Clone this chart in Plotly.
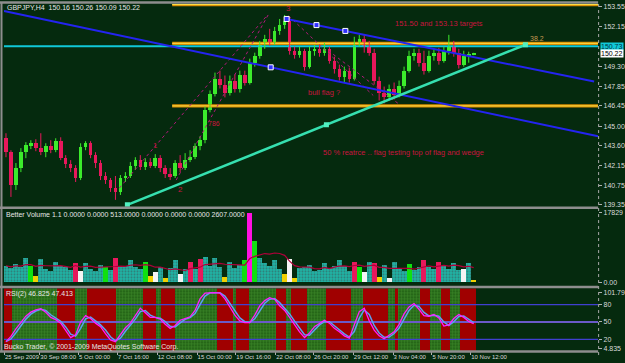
import plotly.graph_objects as go
import pandas as pd

# ---------------- data ----------------
opens = [144.13,143.13,140.78,141.99,143.13,143.63,143.77,143.42,143.13,143.56,
         143.27,143.92,142.70,142.28,141.99,141.28,143.49,143.77,142.92,142.35,
         141.42,141.13,140.56,140.28,141.28,141.42,142.13,142.56,142.06,142.42,
         142.13,142.70,141.99,141.56,141.42,142.35,141.99,142.56,142.77,143.56,
         143.99,146.13,147.34,148.41,147.98,147.41,148.27,147.70,148.70,148.13,
         149.55,150.05,150.84,151.27,150.98,151.84,152.27,152.55,150.41,150.13,
         150.41,149.27,150.41,150.55,150.27,150.55,149.70,149.13,148.55,148.98,
         148.41,150.98,151.27,150.77,150.27,148.27,147.41,147.06,147.70,147.20,
         147.91,148.98,150.05,150.27,149.55,148.98,150.05,150.27,149.70,150.41,
         150.77,150.27,149.41,150.05,150.16]
highs = [144.49,143.27,142.35,143.42,143.85,143.99,144.06,144.49,143.77,143.99,
         144.13,144.20,142.92,142.56,142.20,143.77,143.92,143.92,143.13,142.56,
         141.70,141.28,141.42,141.49,141.70,142.42,142.77,142.92,142.70,142.70,
         142.99,142.92,142.20,141.99,142.56,142.92,143.06,143.27,143.77,144.27,
         146.41,147.56,148.84,148.98,148.63,148.63,148.70,148.98,148.98,149.84,
         150.27,151.12,151.55,151.98,152.12,152.69,152.98,152.84,150.70,150.70,
         150.55,150.70,150.84,150.84,150.98,150.70,149.98,149.41,149.27,149.20,
         151.41,151.55,151.55,151.12,150.55,148.55,147.84,147.98,148.13,148.27,
         149.27,150.41,150.55,150.55,150.41,150.41,150.55,150.62,150.70,151.55,
         151.12,150.55,150.41,150.34,150.26]
lows = [142.77,139.92,140.42,141.70,142.70,143.35,143.20,142.92,142.77,143.06,
        143.13,142.56,141.99,141.70,140.99,141.13,143.27,142.70,141.99,141.13,
        140.85,140.28,139.71,140.06,140.99,141.28,141.85,141.85,141.85,141.99,
        141.99,141.70,141.28,141.13,141.28,141.70,141.85,142.42,142.63,143.27,
        143.77,145.99,147.13,147.70,147.06,147.20,147.41,147.41,147.91,147.98,
        149.27,149.84,150.55,150.77,150.84,151.55,151.98,150.13,149.84,149.91,
        148.98,149.13,150.05,149.98,150.05,149.48,148.77,148.27,148.13,148.13,
        148.27,150.70,150.27,150.05,147.98,146.84,146.63,146.84,146.91,147.06,
        147.70,148.84,149.70,149.27,148.70,148.84,149.70,149.41,149.55,150.13,
        149.98,149.13,149.27,149.55,150.09]
closes = [143.13,140.78,141.99,143.13,143.63,143.77,143.42,143.13,143.56,143.27,
          143.92,142.70,142.28,141.99,141.28,143.49,143.77,142.92,142.35,141.42,
          141.13,140.56,140.28,141.28,141.42,142.13,142.56,142.06,142.42,142.13,
          142.70,141.99,141.56,141.42,142.35,141.99,142.56,142.77,143.56,143.99,
          146.13,147.34,148.41,147.98,147.41,148.27,147.70,148.70,148.13,149.55,
          150.05,150.84,151.27,150.98,151.84,152.27,152.55,150.41,150.13,150.41,
          149.27,150.41,150.55,150.27,150.55,149.70,149.13,148.55,148.98,148.41,
          150.98,151.27,150.77,150.27,148.27,147.41,147.06,147.70,147.20,147.91,
          148.98,150.05,150.27,149.55,148.98,150.05,150.27,149.70,150.41,150.77,
          150.27,149.41,150.05,150.16,150.22]

volume = [4200,3600,4800,3800,6200,4200,1500,6000,3500,3000,
          5300,4200,3800,3200,5000,2800,4900,3500,3000,4500,
          3900,3200,6200,3800,4200,5800,4000,3400,5300,1500,
          2600,3800,1200,3600,5700,2200,3300,5300,3500,5900,
          6500,4200,6100,3800,1400,5300,3600,4500,5800,17829,
          10500,6100,5000,4200,5800,3500,2000,6000,1200,3600,
          4000,4500,2800,3200,4900,3600,4200,5800,4200,3000,
          5200,3800,2600,5200,4900,1300,4400,1000,5300,3600,
          3000,4700,3200,4000,5800,3800,3300,5200,4200,3500,
          4900,3200,3300,4900,513]
vol_type = ['n','n','n','n','n','ch','lv','n','n','n',
            'n','n','n','n','cu','cd','n','n','n','n',
            'ch','n','cu','n','n','n','n','n','ch','lv',
            'cd','n','lv','n','n','cd','n','cu','n','cu',
            'n','n','n','n','lv','n','n','n','ch','cc',
            'ch','n','n','n','n','n','lv','cd','lv','n',
            'n','n','n','n','n','n','n','n','n','n',
            'cu','ch','cd','n','cu','lv','n','cd','n','n',
            'n','ch','n','n','cu','n','n','cu','n','n',
            'n','n','cd','n','lv']

rsi = [16,25,38,50,60,67,71,73,67,58,
       54,48,35,23,28,50,61,56,48,42,
       30,19,16,28,40,48,62,74,66,58,
       58,55,46,39,44,53,56,59,70,90,
       100,101,101,100,90,76,62,52,49,49,
       62,78,87,92,89,78,70,58,45,33,
       23,31,42,48,53,48,39,33,26,22,
       45,68,74,52,36,26,21,27,33,46,
       64,76,82,72,61,60,63,57,43,45,
       56,63,58,51,47]

# RSI background regime boundaries (bar index), alternating bear/bull starting bear
band_edges = [-0.4, 1.2, 10.2, 13.8, 16.2, 22.2, 27.6, 30.2, 31.2, 34.0, 42.4, 45.8,
              46.2, 48.8, 54.2, 56.2, 57.2, 60.4, 64.4, 69.4, 71.8, 76.8, 78.2, 78.8,
              83.2, 85.2, 87.4, 89.2, 91.2, 94.4]

date_labels = ["25 Sep 2009", "30 Sep 08:00", "5 Oct 00:00", "7 Oct 16:00", "12 Oct 08:00",
               "15 Oct 00:00", "19 Oct 16:00", "22 Oct 08:00", "26 Oct 20:00", "29 Oct 12:00",
               "3 Nov 04:00", "5 Nov 20:00", "10 Nov 12:00"]
date_pos = [-0.3, 6.8, 14.6, 22.4, 30.4, 38.4, 46.2, 54.2, 61.8, 69.8, 77.8, 85.6, 93.4]

price_ticks = [153.55, 152.15, 149.30, 147.85, 146.45, 145.00, 143.60, 142.15, 140.75, 139.35]

# drawn objects (price coordinates)
fib_start = 33.4
fib_high = 153.72
fib_low = 146.45
fib_levels = [0.0, 0.382, 1.0]
hline_price = 150.73
chan_lower_x = [-0.4, 119.0]
chan_lower_y = [153.26, 144.27]
chan_upper_x = [56.4, 118.2]
chan_upper_y = [152.69, 148.20]
chan_mark_x = [56.4, 62.4, 68.2, 53.2]
chan_mark_y = [152.69, 152.25, 151.83, 149.22]
support_x = [24.4, 64.4, 104.4]
support_y = [139.35, 145.10, 150.84]
wave_lines = [((22.8, 140.56), (52.4, 152.91)),
              ((34.2, 141.13), (52.8, 153.05)),
              ((56.8, 152.91), (73.8, 147.20)),
              ((64.8, 150.41), (78.8, 146.63))]
notes = [("151.50 and 153.13 targets", 77.8, 152.33, 7.5),
         ("bull flag ?", 60.2, 147.41, 7.5),
         ("50 % reatrce .. flag testing top of flag and wedge", 63.4, 143.13, 7.5),
         ("3", 55.8, 153.41, 8),
         ("1", 29.2, 143.63, 8),
         ("2", 34.2, 140.42, 8),
         ("786", 40.2, 145.20, 7)]

# ---------------- styling / geometry ----------------
W, H = 625, 363
BG = '#052A0E'
FONT = 'Liberation Sans'
BULL = '#3CEB2C'
BEAR = '#E8185C'
def py(p):
    return 1 - p / H

XR = [-0.4, 119.0]
XD = [4 / W, 601 / W]
Y1D = [py(207), py(3)]
Y2D = [py(286), py(210)]
Y3D = [py(352), py(289)]

idx = list(range(len(closes)))
fig = go.Figure()

# fib lines (under candles)
for lv in fib_levels:
    p = fib_high - lv * (fib_high - fib_low)
    fig.add_trace(go.Scatter(x=[fib_start, XR[1]], y=[p, p], mode='lines',
                             line=dict(color='#D88A00', width=3.2), xaxis='x', yaxis='y', hoverinfo='skip'))
    fig.add_trace(go.Scatter(x=[fib_start, XR[1]], y=[p, p], mode='lines',
                             line=dict(color='#FFE24A', width=1), xaxis='x', yaxis='y', hoverinfo='skip'))
# cyan horizontal line
fig.add_trace(go.Scatter(x=XR, y=[hline_price, hline_price], mode='lines',
                         line=dict(color='#10C8D8', width=2), xaxis='x', yaxis='y'))

# candles: wicks + bodies
up = [c >= o for o, c in zip(opens, closes)]
for flag, col in [(True, BULL), (False, BEAR)]:
    wx, wy = [], []
    for i in idx:
        if up[i] == flag:
            wx += [i, i, None]
            wy += [lows[i], highs[i], None]
    fig.add_trace(go.Scatter(x=wx, y=wy, mode='lines', line=dict(color=col, width=1),
                             xaxis='x', yaxis='y', hoverinfo='skip'))
body_base = [min(o, c) for o, c in zip(opens, closes)]
body_h = [max(abs(c - o), 0.03) for o, c in zip(opens, closes)]
fig.add_trace(go.Bar(x=idx, y=body_h, base=body_base, width=0.72, xaxis='x', yaxis='y',
                     marker=dict(color=[BULL if u else BEAR for u in up], line=dict(width=0))))

# wave dotted lines
for (a, b) in wave_lines:
    fig.add_trace(go.Scatter(x=[a[0], b[0]], y=[a[1], b[1]], mode='lines',
                             line=dict(color='#B0187A', width=1, dash='dot'), xaxis='x', yaxis='y'))
# channel lines
fig.add_trace(go.Scatter(x=chan_lower_x, y=chan_lower_y, mode='lines',
                         line=dict(color='#2424F0', width=2), xaxis='x', yaxis='y'))
fig.add_trace(go.Scatter(x=chan_upper_x, y=chan_upper_y, mode='lines',
                         line=dict(color='#2424F0', width=2), xaxis='x', yaxis='y'))
fig.add_trace(go.Scatter(x=chan_mark_x, y=chan_mark_y, mode='markers',
                         marker=dict(symbol='square', size=5, color='#3030FF', line=dict(color='white', width=1)),
                         xaxis='x', yaxis='y'))
# support line
fig.add_trace(go.Scatter(x=[support_x[0], support_x[-1]], y=[support_y[0], support_y[-1]], mode='lines',
                         line=dict(color='#36E0B0', width=2.5), xaxis='x', yaxis='y'))
fig.add_trace(go.Scatter(x=support_x, y=support_y, mode='markers',
                         marker=dict(symbol='square', size=5, color='#50F0C0'), xaxis='x', yaxis='y'))

# ---------------- volume ----------------
vcol = {'n': '#1FB4A6', 'cu': '#E8185C', 'cd': '#F4F4F4', 'ch': '#10E010', 'lv': '#F0D000', 'cc': '#FF10E0'}
fig.add_trace(go.Bar(x=idx, y=volume, width=1.0, xaxis='x2', yaxis='y2',
                     marker=dict(color=[vcol[t] for t in vol_type], line=dict(width=0),
                                 pattern=dict(shape=['.' if t == 'n' else '' for t in vol_type],
                                              fgcolor='#1B5FC8', size=3, solidity=0.35, fillmode='overlay'))))
vol_ma = pd.Series(volume).rolling(8, min_periods=1).mean()
fig.add_trace(go.Scatter(x=idx, y=vol_ma, mode='lines', line=dict(color='#B0003A', width=1.2),
                         xaxis='x2', yaxis='y2'))

# ---------------- RSI ----------------
bear_x, bear_w, bull_x, bull_w = [], [], [], []
for i in range(len(band_edges) - 1):
    c = (band_edges[i] + band_edges[i + 1]) / 2
    w = band_edges[i + 1] - band_edges[i]
    if i % 2 == 0:
        bear_x.append(c); bear_w.append(w)
    else:
        bull_x.append(c); bull_w.append(w)
fig.add_trace(go.Bar(x=bear_x, y=[120] * len(bear_x), width=bear_w, base=-10, xaxis='x3', yaxis='y3',
                     marker=dict(color='#A00000', line=dict(width=0))))
fig.add_trace(go.Bar(x=bull_x, y=[120] * len(bull_x), width=bull_w, base=-10, xaxis='x3', yaxis='y3',
                     marker=dict(color='#1E5C12', line=dict(width=0),
                                 pattern=dict(shape='.', fgcolor='#52A83A', size=3, solidity=0.55, fillmode='overlay'))))
for lvl, col, wd in [(80, '#4040D0', 1.2), (20, '#4040D0', 1.2), (50, '#6A5AC8', 2)]:
    fig.add_trace(go.Scatter(x=XR, y=[lvl, lvl], mode='lines', line=dict(color=col, width=wd),
                             xaxis='x3', yaxis='y3'))
rsi_sig = pd.Series(rsi).rolling(2, min_periods=1).mean()
fig.add_trace(go.Scatter(x=idx, y=rsi_sig, mode='lines', line=dict(color='#5AA0F0', width=1.5),
                         xaxis='x3', yaxis='y3'))
fig.add_trace(go.Scatter(x=idx, y=rsi, mode='lines', line=dict(color='#FF20FF', width=1.3),
                         xaxis='x3', yaxis='y3'))

# ---------------- axes ----------------
tickfont = dict(family=FONT, size=7, color='#DADADA')
common_x = dict(domain=XD, range=XR, showgrid=False, zeroline=False, showline=False,
                showticklabels=False, ticks='', fixedrange=True)
fig.update_layout(
    xaxis=dict(**common_x, anchor='y'),
    xaxis2=dict(**common_x, anchor='y2'),
    xaxis3=dict(domain=XD, range=XR, showgrid=False, zeroline=False, showline=False, anchor='y3',
                tickvals=date_pos, ticktext=date_labels, ticks='outside', ticklen=3, tickangle=0,
                tickcolor='#B0B0B0', ticklabelposition='outside right', ticklabelstandoff=0,
                tickfont=dict(family=FONT, size=6, color='#DADADA')),
    yaxis=dict(domain=Y1D, range=[139.207, 153.764], side='right', anchor='x', showgrid=False,
               zeroline=False, tickvals=price_ticks, ticktext=[f'{v:.2f}' for v in price_ticks],
               ticks='outside', ticklen=3, tickcolor='#B0B0B0', tickfont=tickfont),
    yaxis2=dict(domain=Y2D, range=[-840, 18517], side='right', anchor='x2', showgrid=False,
                zeroline=False, tickvals=[17829, 0], ticktext=['17829', '0.00'],
                ticks='outside', ticklen=3, tickcolor='#B0B0B0', tickfont=tickfont),
    yaxis3=dict(domain=Y3D, range=[-0.33, 108.16], side='right', anchor='x3', showgrid=False,
                zeroline=False, tickvals=[101.79, 80, 50, 20, 4.835],
                ticktext=['101.79', '80', '50', '20', '4.835'],
                ticks='outside', ticklen=3, tickcolor='#B0B0B0', tickfont=tickfont),
    width=W, height=H, margin=dict(l=0, r=0, t=0, b=0), paper_bgcolor=BG, plot_bgcolor=BG,
    showlegend=False, barmode='overlay', bargap=0,
)

# frame / separators
shapes = []
for yp in [1.5, 208, 287.5, 352.5]:
    shapes.append(dict(type='line', xref='paper', yref='paper', x0=0, x1=601 / W, y0=py(yp), y1=py(yp),
                       line=dict(color='#8E8E8E', width=2.5)))
shapes.append(dict(type='line', xref='paper', yref='paper', x0=1.5 / W, x1=1.5 / W, y0=py(352.5), y1=py(1.5),
                   line=dict(color='#8E8E8E', width=2)))
shapes.append(dict(type='line', xref='paper', yref='paper', x0=601.5 / W, x1=601.5 / W, y0=py(356), y1=py(1.5),
                   line=dict(color='#A8A8A8', width=1, dash='dot')))
fig.update_layout(shapes=shapes)

ann = []
def txt(text, x, y, xref, yref, size=7, color='#E6E6E6', xanchor='left', **kw):
    ann.append(dict(text=text, x=x, y=y, xref=xref, yref=yref, showarrow=False, xanchor=xanchor,
                    yanchor='middle', font=dict(family=FONT, size=size, color=color), **kw))

txt('GBPJPY,H4  150.16 150.26 150.09 150.22', 5 / W, py(6.5), 'paper', 'paper')
txt('Better Volume 1.1 0.0000 0.0000 513.0000 0.0000 0.0000 0.0000 2607.0000', 4 / W, py(214.5), 'paper', 'paper')
txt('RSI(2) 46.825 47.413', 4 / W, py(294.5), 'paper', 'paper')
txt('Bucko Trader, \u00a9 2001-2009 MetaQuotes Software Corp.', 2 / W, py(348), 'paper', 'paper')
for (t, x, y, s) in notes:
    txt(t, x, y, 'x', 'y', size=s, color='#C8143F')
txt('38.2', 108.6, fib_high - 0.382 * (fib_high - fib_low) + 0.33, 'x', 'y', size=7, color='#C89A50', xanchor='right')
txt(f'{hline_price:.2f}', 602.5 / W, hline_price, 'paper', 'y', size=7, color='#003040',
    bgcolor='#10C8D8', borderpad=0)
txt(f'{closes[-1]:.2f}', 602.5 / W, closes[-1], 'paper', 'y', size=7, color='#000000',
    bgcolor='#FFFFFF', borderpad=0)
fig.update_layout(annotations=ann)

fig.write_html('out.html')
